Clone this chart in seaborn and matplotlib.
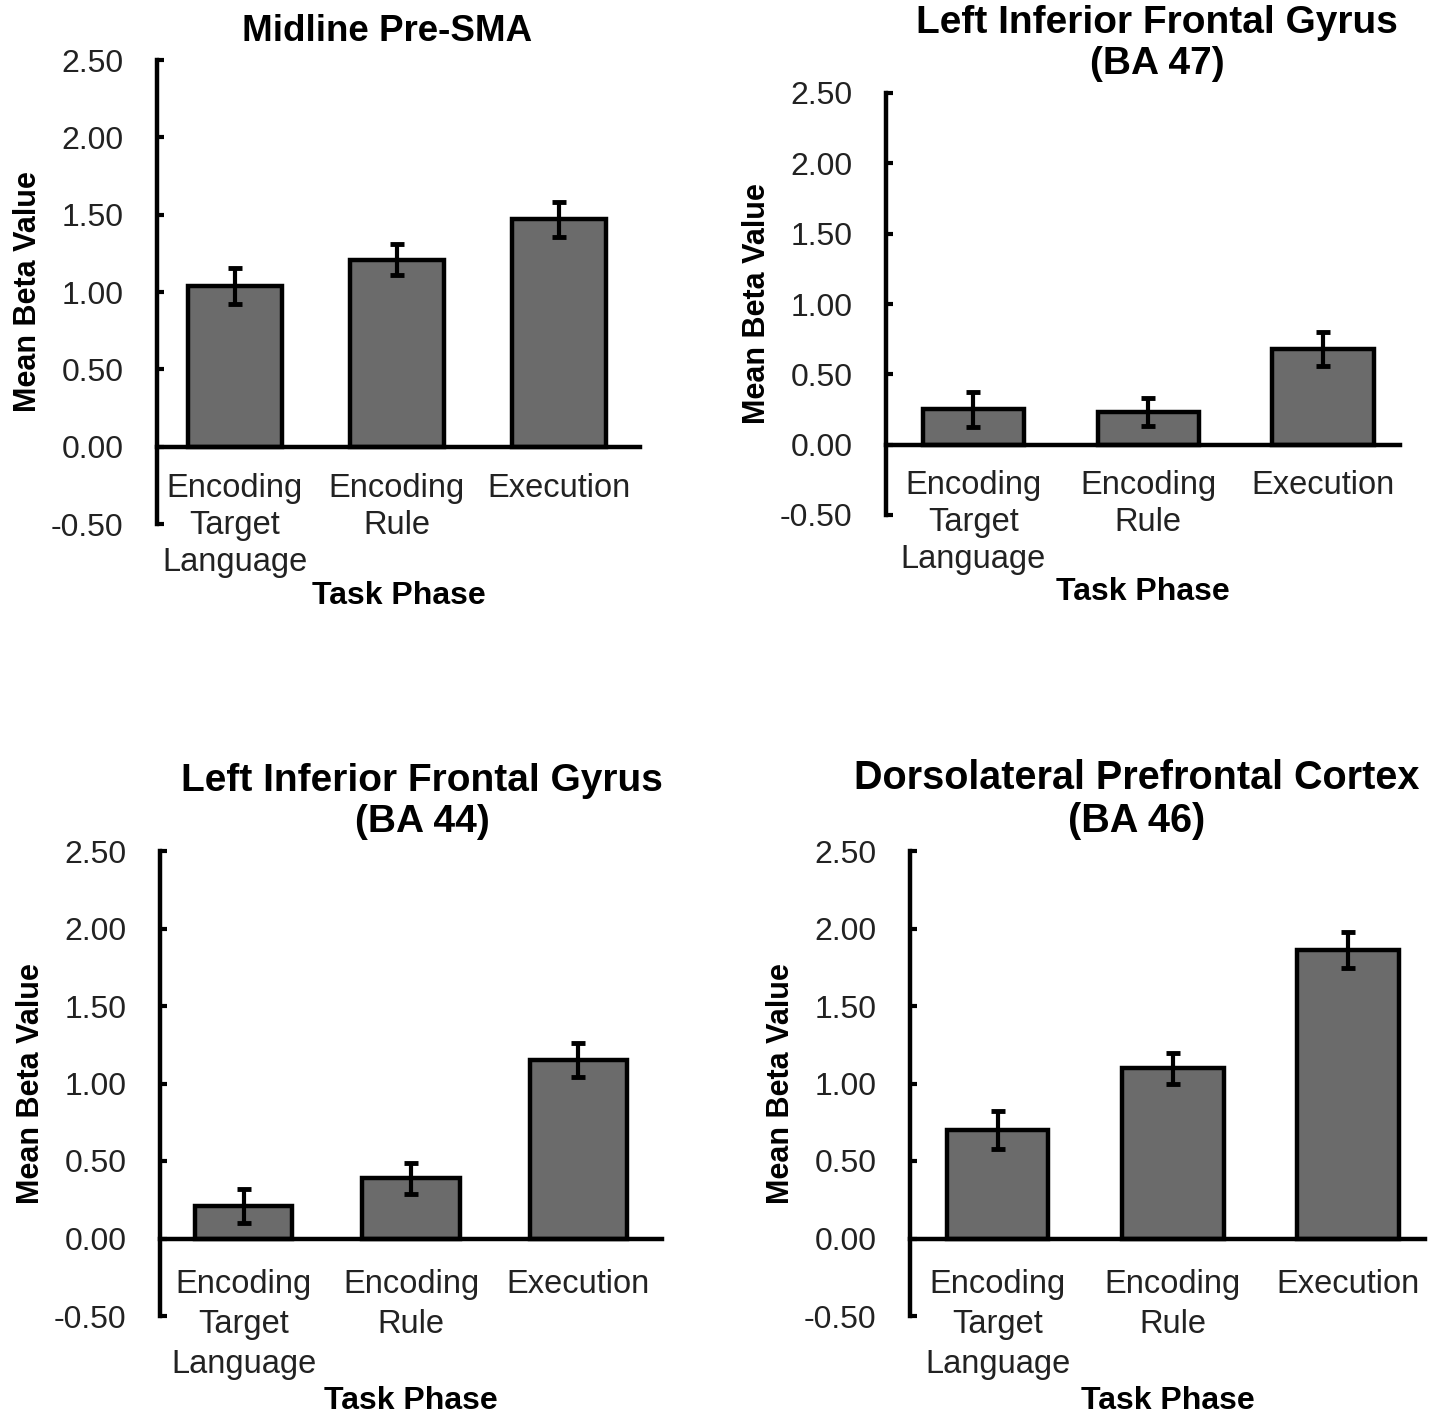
import matplotlib
matplotlib.use("Agg")
import matplotlib.pyplot as plt
import seaborn as sns
import pandas as pd
import numpy as np

phases = ["Encoding\nTarget\nLanguage", "Encoding\nRule", "Execution"]

titles = [
    "Midline Pre-SMA",
    "Left Inferior Frontal Gyrus\n(BA 47)",
    "Left Inferior Frontal Gyrus\n(BA 44)",
    "Dorsolateral Prefrontal Cortex\n(BA 46)",
]

pre_sma_means = [1.04, 1.21, 1.47]
pre_sma_se = [0.115, 0.10, 0.115]
ifg47_means = [0.25, 0.23, 0.68]
ifg47_se = [0.125, 0.10, 0.12]
ifg44_means = [0.21, 0.39, 1.15]
ifg44_se = [0.11, 0.10, 0.11]
dlpfc_means = [0.70, 1.10, 1.86]
dlpfc_se = [0.12, 0.10, 0.115]

yticks = [-0.5, 0.0, 0.5, 1.0, 1.5, 2.0, 2.5]
ytick_labels = ["-0.50", "0.00", "0.50", "1.00", "1.50", "2.00", "2.50"]

sns.set_theme(style="white")
plt.rcParams["font.family"] = ["Liberation Sans", "DejaVu Sans"]

W, H = 1441, 1423
fig = plt.figure(figsize=(W / 100, H / 100), dpi=100)

# pixel rects: left, right, top, bottom
rects = [
    (157, 640, 60, 524),
    (886, 1400, 93, 515),
    (160, 662, 851, 1316),
    (910, 1425, 851, 1316),
]
xlims = [(-0.48, 2.5), (-0.5, 2.44), (-0.5, 2.5), (-0.5, 2.44)]
title_x = [0.476, 0.527, 0.522, 0.44]
title_size = [26.5, 28, 28, 28.5]
xt_pad = [19, 18, 22, 22]
xt_spacing = [1.25, 1.25, 1.38, 1.38]
xl_pad = [2, 2, 4, 4]

panels = [
    (pre_sma_means, pre_sma_se),
    (ifg47_means, ifg47_se),
    (ifg44_means, ifg44_se),
    (dlpfc_means, dlpfc_se),
]

bar_color = "#6b6b6b"

for i, ((means, ses), (l, r, t, b)) in enumerate(zip(panels, rects)):
    ax = fig.add_axes([l / W, 1 - b / H, (r - l) / W, (b - t) / H])
    df = pd.DataFrame({"phase": phases, "value": means})
    sns.barplot(data=df, x="phase", y="value", ax=ax, color=bar_color,
                saturation=1, edgecolor="black", linewidth=3.2, width=0.58,
                errorbar=None)
    ax.errorbar(x=np.arange(len(phases)), y=means, yerr=ses, fmt="none",
                ecolor="black", elinewidth=3, capsize=5, capthick=3.5, zorder=5)
    ax.set_ylim(-0.5, 2.5)
    ax.set_xlim(*xlims[i])
    ax.set_yticks(yticks)
    ax.set_yticklabels(ytick_labels)
    for s in ["top", "right"]:
        ax.spines[s].set_visible(False)
    ax.spines["bottom"].set_position(("data", 0))
    ax.spines["bottom"].set_linewidth(3.2)
    ax.spines["left"].set_linewidth(3.2)
    ax.spines["bottom"].set_color("black")
    ax.spines["left"].set_color("black")
    ax.tick_params(axis="y", direction="in", length=5, width=3, pad=24,
                   labelsize=23, colors="black", labelcolor="#222222", left=True)
    ax.tick_params(axis="x", length=0, pad=xt_pad[i], labelsize=23.5,
                   labelcolor="#222222")
    for lab in ax.get_xticklabels():
        lab.set_linespacing(xt_spacing[i])
    ax.set_xlabel("Task Phase", fontsize=23, fontweight="bold",
                  labelpad=xl_pad[i], color="black")
    ax.set_ylabel("Mean Beta Value", fontsize=22, fontweight="bold",
                  labelpad=6, color="black")
    ax.set_title(titles[i], fontsize=title_size[i], fontweight="bold",
                 x=title_x[i], pad=14, linespacing=1.15, color="black")
    ax.patch.set_alpha(0)

fig.savefig("out.png", dpi=100)
